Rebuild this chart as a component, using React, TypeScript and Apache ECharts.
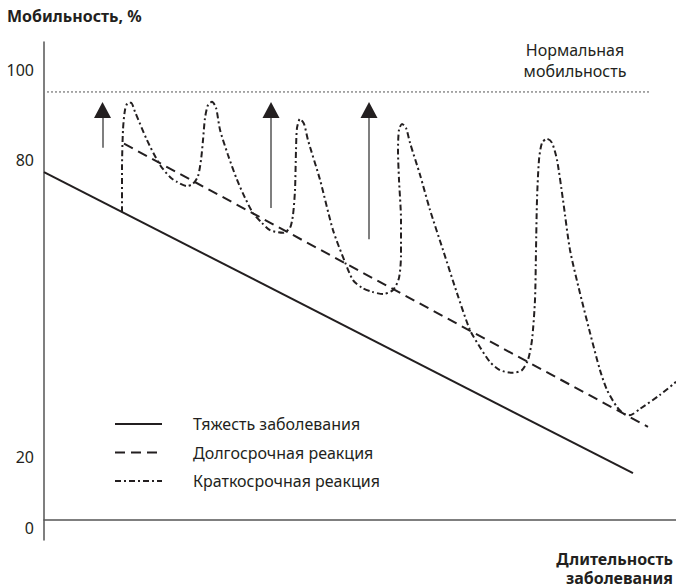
import React, { useEffect, useRef } from "react";
import * as echarts from "echarts";

// Schematic units: x = duration (arbitrary units), y = mobility, %
const severity: number[][] = [[0, 77.3], [589, 10.4]];
const longTerm: number[][] = [[80, 83.6], [604, 20.7]];
const shortTerm: number[][] = [
  [78, 68.4], [78, 77.8], [79, 86.7], [81, 91.1], [84, 92.7], [87, 92.7], [91, 90.7],
  [103, 84.4], [116, 78.9], [126, 76.2], [133, 75.1], [143, 74.2], [149, 74.7], [154, 76.4],
  [157, 80.0], [159, 84.4], [161, 89.3], [164, 92.2], [168, 92.9], [172, 91.6], [176, 86.7],
  [184, 81.1], [193, 75.6], [201, 71.6], [209, 68.2], [218, 66.0], [226, 64.4], [239, 63.8],
  [246, 64.9], [249, 67.8], [251, 73.3], [252, 82.2], [253, 87.1], [256, 89.1], [260, 88.0],
  [264, 84.4], [276, 75.6], [289, 64.4], [301, 57.3], [309, 53.3], [318, 51.6], [328, 50.7],
  [339, 50.2], [349, 51.1], [355, 53.8], [357, 58.9], [357, 66.7], [355, 75.6], [354, 82.2],
  [355, 86.7], [358, 88.0], [362, 87.1], [366, 83.8], [376, 76.7], [386, 68.9], [399, 60.0],
  [413, 50.4], [426, 42.2], [436, 38.4], [446, 35.1], [456, 33.3], [469, 32.7], [478, 33.3],
  [484, 35.6], [488, 40.0], [491, 48.9], [492, 60.0], [493, 71.1], [495, 80.0], [498, 83.8],
  [503, 84.7], [508, 83.8], [513, 80.0], [519, 71.1], [526, 60.0], [536, 50.4], [546, 41.6],
  [556, 33.3], [563, 28.9], [573, 25.1], [580, 23.6], [586, 23.3], [596, 24.7], [616, 27.8],
  [632, 30.7],
];
const normalLevel = 95.1;
const normalSpan = [3, 606];
const arrowX = [58.5, 227, 325];
const arrowFrom = [82.7, 69.3, 62.4];
const arrowTo = [91.1, 91.1, 91.1];
const yTickValues = [100, 80, 14, -1.8];
const yTickLabels = ["100", "80", "20", "0"];
const seriesNames = ["Тяжесть заболевания", "Долгосрочная реакция", "Краткосрочная реакция"];

const FONT = "'Noto Sans', 'Open Sans', sans-serif";
const INK = "#231f20";

export default function App() {
  const ref = useRef<HTMLDivElement>(null);
  useEffect(() => {
    if (!ref.current) return;
    const chart = echarts.init(ref.current, undefined, { renderer: "svg" });
    chart.setOption({
      animation: false,
      textStyle: { fontFamily: FONT },
      grid: { left: 44, right: 0, top: 42, bottom: 47, containLabel: false },
      xAxis: {
        type: "value",
        min: 0,
        max: 632,
        axisLine: { show: true, lineStyle: { color: "#555", width: 1.5 } },
        axisTick: { show: false },
        axisLabel: { show: false },
        splitLine: { show: false },
      },
      yAxis: {
        type: "value",
        min: -4.44,
        max: 106.2,
        axisLine: { show: true, lineStyle: { color: "#555", width: 1.5 } },
        axisTick: { show: false },
        splitLine: { show: false },
        axisLabel: {
          customValues: yTickValues,
          color: INK,
          fontSize: 16,
          fontFamily: FONT,
          margin: 10,
          formatter: (v: number) => {
            let best = 0;
            yTickValues.forEach((t, i) => {
              if (Math.abs(t - v) < Math.abs(yTickValues[best] - v)) best = i;
            });
            return yTickLabels[best];
          },
        },
      },
      legend: {
        data: seriesNames,
        orient: "vertical",
        left: 109,
        top: 411,
        itemWidth: 47,
        itemHeight: 14,
        itemGap: 12.5,
        itemStyle: { opacity: 0 },
        textStyle: { fontSize: 16, color: INK, fontFamily: FONT, padding: [0, 0, 0, 26] },
      },
      series: [
        {
          name: seriesNames[0],
          type: "line",
          data: severity,
          symbol: "none",
          lineStyle: { color: INK, width: 2 },
          itemStyle: { color: INK },
        },
        {
          name: seriesNames[1],
          type: "line",
          data: longTerm,
          symbol: "none",
          lineStyle: { color: INK, width: 2, type: [10, 6] },
          itemStyle: { color: INK },
        },
        {
          name: seriesNames[2],
          type: "line",
          data: shortTerm,
          symbol: "none",
          smooth: 0.25,
          lineStyle: { color: INK, width: 2, type: [6, 3, 2, 3] },
          itemStyle: { color: INK },
        },
        {
          name: "Нормальная мобильность",
          type: "line",
          data: normalSpan.map((x) => [x, normalLevel]),
          symbol: "none",
          lineStyle: { color: "#555", width: 1, type: [2, 2] },
        },
        {
          name: "arrowShafts",
          type: "lines",
          coordinateSystem: "cartesian2d",
          data: arrowX.map((x, i) => ({ coords: [[x, arrowFrom[i]], [x, arrowTo[i] - 1]] })),
          lineStyle: { color: "#555", width: 1.5, opacity: 1 },
          symbol: ["none", "none"],
        },
        {
          name: "arrowHeads",
          type: "scatter",
          data: arrowX.map((x, i) => [x, arrowTo[i]]),
          symbol: "triangle",
          symbolSize: [17, 16],
          itemStyle: { color: INK, opacity: 1 },
        },
      ],
      graphic: [
        {
          type: "text",
          left: 7,
          top: 8,
          style: { text: "Мобильность, %", font: `bold 16px ${FONT}`, fill: INK },
        },
        {
          type: "text",
          x: 575,
          y: 60,
          style: {
            text: "Нормальная\nмобильность",
            font: `16px ${FONT}`,
            fill: INK,
            align: "center",
            verticalAlign: "middle",
            lineHeight: 21,
          },
        },
        {
          type: "text",
          x: 673,
          y: 568,
          style: {
            text: "Длительность\nзаболевания",
            font: `bold 16px ${FONT}`,
            fill: INK,
            align: "right",
            verticalAlign: "middle",
            lineHeight: 19,
          },
        },
      ],
    });
    return () => chart.dispose();
  }, []);
  return <div ref={ref} style={{ width: 676, height: 587, position: "absolute", left: 0, top: 0 }} />;
}
